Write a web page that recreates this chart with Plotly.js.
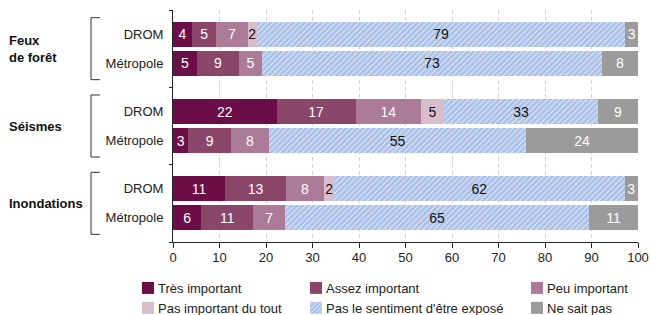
<!DOCTYPE html>
<html>
<head>
<meta charset="utf-8">
<script src="https://cdn.plot.ly/plotly-3.0.1.min.js"></script>
<style>
  html, body { margin: 0; padding: 0; background: #ffffff; }
  #chart { width: 651px; height: 315px; }
</style>
</head>
<body>
<div id="chart"></div>
<script>
// ---- Data ----
const groupLabels = ['Feux<br>de forêt', 'Séismes', 'Inondations'];
const rowLabels = ['DROM', 'Métropole', 'DROM', 'Métropole', 'DROM', 'Métropole'];
const rowGroup = [0, 0, 1, 1, 2, 2];
const rowSub = [0, 1, 0, 1, 0, 1];

const seriesNames = ['Très important', 'Assez important', 'Peu important',
  'Pas important du tout', "Pas le sentiment d'être exposé", 'Ne sait pas'];

const tresImportant      = [4.1, 5.2, 22.3, 3.3, 11.2, 6.1];
const assezImportant     = [5.2, 9.0, 17.0, 9.2, 13.1, 11.2];
const peuImportant       = [6.8, 4.9, 14.0, 8.1, 8.2, 6.8];
const pasImportantDuTout = [1.9, 0, 5.0, 0, 2.2, 0];
const pasExpose          = [79.3, 73.2, 33.1, 55.4, 62.4, 65.4];
const neSaitPas          = [2.7, 7.7, 8.6, 24.0, 2.9, 10.5];

const xTicks = [0, 10, 20, 30, 40, 50, 60, 70, 80, 90, 100];

// ---- Styling ----
const FONT = 'Liberation Sans, Arial, Helvetica, sans-serif';
const colors = ['#6b0d47', '#8a4669', '#ab7b97', '#d8bdcc', '#adc2ea', '#9b9b9b'];
const textColors = ['#ffffff', '#ffffff', '#ffffff', '#111111', '#111111', '#ffffff'];
const legendOf = ['legend', 'legend2', 'legend3', 'legend', 'legend2', 'legend3'];

const SUB_OFFSET = 0.1875;   // half distance between the two bars of a group (axis units)
const BAR_WIDTH = 0.323;
const rowY = rowGroup.map((g, i) => g + (rowSub[i] === 0 ? -SUB_OFFSET : SUB_OFFSET));

const allSeries = [tresImportant, assezImportant, peuImportant, pasImportantDuTout, pasExpose, neSaitPas];

const traces = allSeries.map((vals, k) => {
  const t = {
    type: 'bar',
    orientation: 'h',
    name: seriesNames[k],
    x: vals,
    y: rowY,
    width: BAR_WIDTH,
    legend: legendOf[k],
    marker: { color: colors[k], line: { width: 0 } },
    text: vals.map(v => v > 0 ? String(Math.round(v)) : ''),
    texttemplate: '%{text}',
    textposition: 'inside',
    insidetextanchor: 'middle',
    textangle: 0,
    insidetextfont: { family: FONT, size: 14, color: textColors[k] },
    hoverinfo: 'skip',
    cliponaxis: false
  };
  if (k === 4) {
    t.marker.pattern = { shape: '/', fgcolor: '#ffffff', bgcolor: colors[k], size: 4, solidity: 0.22 };
  }
  return t;
});

// brackets and group labels
const plotL = 173, plotW = 465;
const px2paper = p => (p - plotL) / plotW;
const BR_HALF = 0.401;
const shapes = groupLabels.map((_, g) => ({
  type: 'path', xref: 'paper', yref: 'y',
  path: `M ${px2paper(100)},${g - BR_HALF} L ${px2paper(91)},${g - BR_HALF} L ${px2paper(91)},${g + BR_HALF} L ${px2paper(100)},${g + BR_HALF}`,
  line: { color: '#333333', width: 1 }
}));
const annotations = groupLabels.map((lab, g) => ({
  xref: 'paper', yref: 'y', x: px2paper(7), y: g,
  xanchor: 'left', yanchor: 'middle', align: 'left',
  text: '<b>' + lab + '</b>', showarrow: false,
  font: { family: FONT, size: 13, color: '#111111' }
}));

const legendBase = {
  orientation: 'v', xanchor: 'left', yanchor: 'top', y: -0.1336,
  traceorder: 'normal', bgcolor: 'rgba(0,0,0,0)', borderwidth: 0,
  font: { family: FONT, size: 13, color: '#222222' }, itemclick: false, itemdoubleclick: false
};

const layout = {
  width: 651, height: 315,
  margin: { l: 173, r: 13, t: 10, b: 73, pad: 0, autoexpand: false },
  paper_bgcolor: '#ffffff', plot_bgcolor: '#ffffff',
  barmode: 'stack',
  font: { family: FONT, size: 13, color: '#222222' },
  uniformtext: { mode: 'show', minsize: 14 },
  xaxis: {
    range: [0, 100.0005], tickvals: xTicks, ticktext: xTicks.map(String),
    showline: true, linecolor: '#222222', linewidth: 1,
    ticks: 'outside', ticklen: 5, tickcolor: '#222222',
    showgrid: true, gridcolor: '#d2d2d2', griddash: '4px,3px', gridwidth: 1,
    zeroline: false, ticklabelstandoff: -2,
    tickfont: { family: FONT, size: 13, color: '#222222' }, fixedrange: true
  },
  yaxis: {
    range: [2.5, -0.5], tickmode: 'array', tickvals: rowY, ticktext: rowLabels,
    showline: true, linecolor: '#222222', linewidth: 1,
    ticks: '', showgrid: false, zeroline: false, ticklabelstandoff: 6,
    minor: { tickmode: 'array', tickvals: [-0.5, 0.5, 1.5, 2.5], ticks: 'outside', ticklen: 3, tickcolor: '#222222', showgrid: false },
    tickfont: { family: FONT, size: 13, color: '#222222' }, fixedrange: true
  },
  legend: Object.assign({}, legendBase, { x: px2paper(128) }),
  legend2: Object.assign({}, legendBase, { x: px2paper(296) }),
  legend3: Object.assign({}, legendBase, { x: px2paper(517) }),
  shapes: shapes,
  annotations: annotations
};

// tighten the gap between each legend swatch and its label
function tightenLegend() {
  document.querySelectorAll('#chart svg text').forEach(el => {
    if (seriesNames.indexOf(el.textContent) !== -1) {
      el.style.transform = 'translate(-10px, 0px)';
    }
  });
}

Plotly.newPlot('chart', traces, layout, { displayModeBar: false, staticPlot: true }).then(() => {
  tightenLegend();
  setTimeout(tightenLegend, 30);
  setTimeout(tightenLegend, 200);
});
</script>
</body>
</html>
